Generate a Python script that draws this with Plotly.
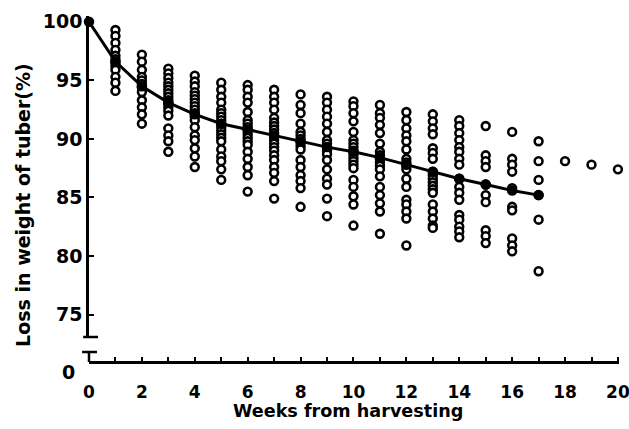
import plotly.graph_objects as go

# individual tuber observations (% of initial weight) per week after harvest
w01 = [99.3, 98.8, 98.2, 97.6, 97.1, 96.8, 96.5, 96.2, 95.9, 95.3, 94.8, 94.1]
w02 = [97.2, 96.6, 95.9, 95.3, 95.0, 94.7, 94.4, 94.0, 93.3, 92.7, 92.1, 91.3]
w03 = [96.0, 95.6, 95.2, 94.8, 94.5, 94.2, 93.9, 93.6, 93.3, 93.0, 92.7, 92.4, 92.0, 90.9, 90.3, 89.8, 88.9]
w04 = [95.4, 94.9, 94.5, 94.0, 93.7, 93.4, 93.1, 92.8, 92.5, 92.2, 91.9, 91.6, 91.0, 90.3, 89.9, 89.2, 88.5, 87.6]
w05 = [94.8, 94.2, 93.6, 93.1, 92.5, 92.2, 91.9, 91.6, 91.3, 91.0, 90.7, 90.4, 90.1, 89.8, 89.1, 88.5, 88.1, 87.4, 86.5]
w06 = [94.6, 94.2, 93.6, 93.1, 92.3, 91.6, 91.3, 91.0, 90.7, 90.4, 90.1, 89.8, 89.5, 88.9, 88.3, 87.6, 86.9, 85.5]
w07 = [94.2, 93.6, 93.1, 92.5, 91.8, 91.4, 91.1, 90.8, 90.5, 90.2, 89.9, 89.6, 89.3, 89.0, 88.6, 88.2, 87.6, 87.1, 86.4, 84.9]
w08 = [93.8, 92.9, 92.2, 91.3, 90.6, 90.3, 90.0, 89.7, 89.4, 89.1, 88.2, 87.6, 86.9, 86.4, 85.8, 84.2]
w09 = [93.6, 93.1, 92.5, 91.9, 91.3, 90.6, 89.9, 89.6, 89.3, 89.0, 88.7, 88.2, 87.4, 86.6, 86.1, 84.9, 83.4]
w10 = [93.2, 92.8, 92.2, 91.5, 90.6, 89.9, 89.6, 89.3, 89.0, 88.7, 88.4, 88.1, 87.8, 87.5, 86.5, 85.9, 85.1, 84.4, 82.6]
w11 = [92.9, 92.2, 91.8, 91.2, 90.5, 89.6, 88.9, 88.6, 88.3, 88.0, 87.7, 87.4, 86.8, 85.9, 85.2, 84.5, 83.8, 81.9]
w12 = [92.3, 91.6, 90.9, 90.3, 89.8, 89.1, 88.3, 88.0, 87.7, 87.4, 86.6, 85.9, 84.8, 84.4, 83.8, 83.2, 80.9]
w13 = [92.1, 91.5, 90.9, 90.4, 89.2, 88.8, 88.3, 87.2, 86.9, 86.6, 86.3, 86.0, 85.7, 85.4, 84.4, 83.8, 83.2, 82.6, 82.4]
w14 = [91.6, 91.1, 90.5, 89.9, 89.3, 88.9, 88.3, 87.8, 86.6, 85.9, 85.4, 84.8, 83.5, 83.1, 82.5, 82.1, 81.6]
w15 = [91.1, 88.6, 88.1, 87.6, 86.1, 85.2, 84.6, 82.2, 81.7, 81.1]
w16 = [90.6, 88.3, 87.8, 87.2, 85.8, 84.2, 83.9, 81.5, 80.9, 80.4]
w17 = [89.8, 88.1, 86.5, 85.2, 83.1, 78.7]
w18 = [88.1]
w19 = [87.8]
w20 = [87.4]
obs_by_week = [w01, w02, w03, w04, w05, w06, w07, w08, w09, w10,
               w11, w12, w13, w14, w15, w16, w17, w18, w19, w20]

# mean curve
mean_weeks = [0, 1, 2, 3, 4, 5, 6, 7, 8, 9, 10, 11, 12, 13, 14, 15, 16, 17]
mean_values = [100.0, 96.6, 94.5, 93.1, 92.1, 91.3, 90.8, 90.3, 89.8, 89.3,
               88.9, 88.4, 87.8, 87.2, 86.6, 86.1, 85.6, 85.2]

x_tickvals = list(range(0, 21))
x_ticktext = [str(v) if v % 2 == 0 else "" for v in x_tickvals]
y_tickvals = [75, 80, 85, 90, 95, 100]

obs_x, obs_y = [], []
for i, vals in enumerate(obs_by_week, start=1):
    obs_x += [i] * len(vals)
    obs_y += vals

FONT = "DejaVu Sans"

fig = go.Figure()
fig.add_trace(go.Scatter(
    x=obs_x, y=obs_y, mode="markers", cliponaxis=False,
    marker=dict(symbol="circle", size=7.8, color="white",
                line=dict(color="black", width=2.6)),
    showlegend=False, hoverinfo="skip"))
fig.add_trace(go.Scatter(
    x=mean_weeks, y=mean_values, mode="lines+markers", cliponaxis=False,
    line=dict(color="black", width=3),
    marker=dict(symbol="circle", size=10.5, color="black"),
    showlegend=False))

fig.update_layout(
    width=629, height=429,
    margin=dict(l=89, r=10, t=10, b=67, autoexpand=False),
    paper_bgcolor="white", plot_bgcolor="white",
    font=dict(family=FONT, color="black"),
    xaxis=dict(range=[0, 20.04], tickvals=x_tickvals, ticktext=x_ticktext,
               ticks="inside", ticklen=4, tickwidth=2, tickcolor="black",
               showline=True, linecolor="black", linewidth=2.5,
               showgrid=False, zeroline=False, anchor="free", position=0,
               automargin=False, ticklabeloverflow="allow",
               tickfont=dict(family=FONT, size=17, weight="bold"),
               ticklabelstandoff=14),
    yaxis=dict(domain=[0.071, 0.983], range=[73.08, 100.5],
               tickvals=y_tickvals, ticks="inside", ticklen=5, tickwidth=2,
               tickcolor="black", showline=True, linecolor="black",
               linewidth=2.5, showgrid=False, zeroline=False, anchor="x",
               automargin=False,
               tickfont=dict(family=FONT, size=19, weight="bold"),
               ticklabelstandoff=0),
)

# axis-break marks
brk = dict(color="black", width=2.5)
fig.add_shape(type="line", xref="paper", yref="paper",
              x0=-0.011, x1=0.017, y0=0.071, y1=0.071, line=brk)
fig.add_shape(type="line", xref="paper", yref="paper",
              x0=-0.013, x1=0.015, y0=0.0284, y1=0.0284, line=brk)
fig.add_shape(type="line", xref="paper", yref="paper",
              x0=0, x1=0, y0=0, y1=0.0284, line=brk)

fig.add_annotation(text="0", xref="paper", yref="paper",
                   x=-0.038, y=-0.028, xanchor="center", yanchor="middle",
                   showarrow=False,
                   font=dict(family=FONT, size=19, weight="bold"))
fig.add_annotation(text="Weeks from harvesting", xref="paper", yref="paper",
                   x=0.489, y=-0.139, xanchor="center", yanchor="middle",
                   showarrow=False,
                   font=dict(family=FONT, size=17.6, weight="bold"))
fig.add_annotation(text="Loss in weight of tuber(%)", xref="paper", yref="paper",
                   x=-0.126, y=0.447, xanchor="center", yanchor="middle",
                   textangle=-90, showarrow=False,
                   font=dict(family=FONT, size=19, weight="bold"))

fig.write_html("out.html")
